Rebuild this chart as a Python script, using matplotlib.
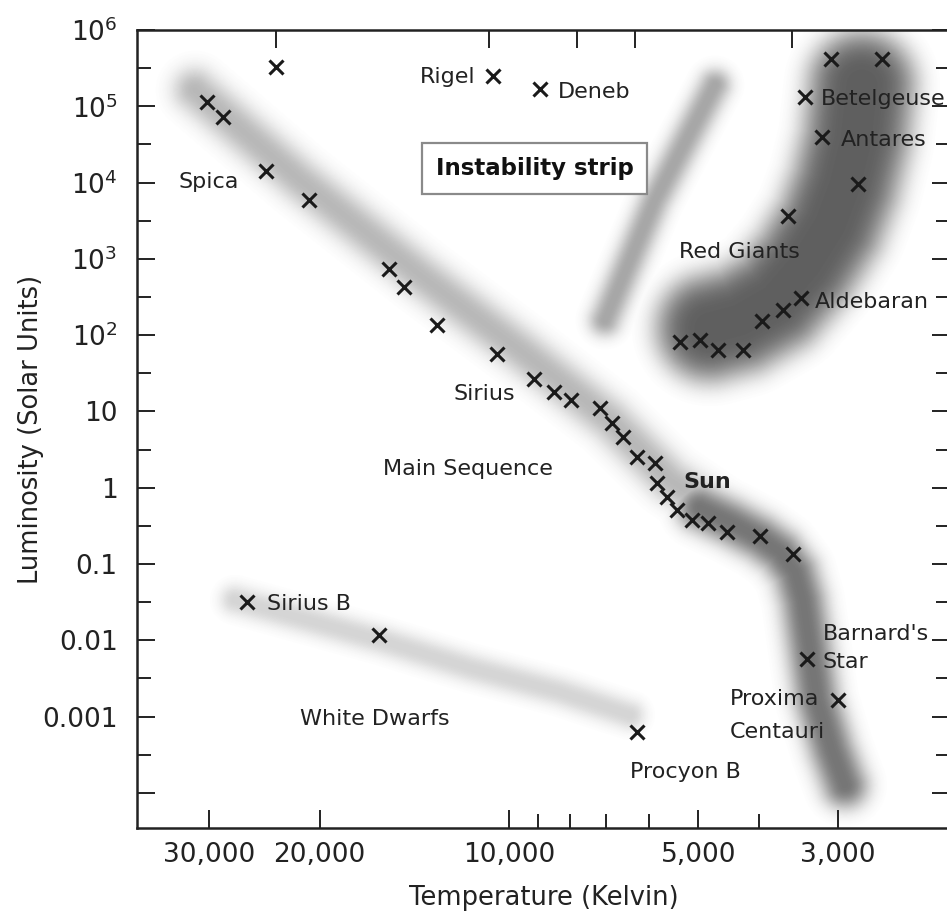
import numpy as np
import matplotlib
matplotlib.use("Agg")
import matplotlib.pyplot as plt
from matplotlib.ticker import FixedLocator, FixedFormatter, NullFormatter

# ---------------- data ----------------
# labelled stars
star_names = ["Spica", "Rigel", "Deneb", "Betelgeuse", "Antares", "Aldebaran",
              "Sirius", "Sun", "Sirius B", "Procyon B", "Barnard's\nStar",
              "Proxima\nCentauri"]
star_temp = [24300, 10600, 8930, 3380, 3180, 3430, 9130, 5820, 26100, 6260, 3360, 3000]
star_lum = [1.42e4, 2.5e5, 1.69e5, 1.32e5, 3.96e4, 307, 26.7, 1.16, 0.032, 0.00063,
            0.0057, 0.00166]

# unlabelled main-sequence stars
ms_temp = [30200, 28500, 20800, 15500, 14700, 13000, 10450, 8480, 7970, 7170, 6860,
           6590, 6260, 5860, 5610, 5410, 5120, 4830, 4500, 3990, 3540]
ms_lum = [1.14e5, 7.2e4, 5900, 740, 430, 136, 57, 18, 14.1, 11.1, 7.1,
          4.6, 2.5, 2.1, 0.76, 0.51, 0.38, 0.35, 0.26, 0.23, 0.136]

# unlabelled giants / supergiants
giant_temp = [23500, 3080, 2550, 2790, 3600, 3670, 3960, 5350, 4970, 4650, 4250]
giant_lum = [3.3e5, 4.2e5, 4.2e5, 9600, 3650, 214, 154, 81.5, 86.5, 64, 64]

# unlabelled white dwarf
wd_temp = [16100]
wd_lum = [0.0118]

# shaded regions (centre lines)
ms_band_upper_T = [31560, 21490, 13850, 9605, 6910, 5546, 4700]
ms_band_upper_L = [1.64e5, 1.08e4, 615, 64, 7.74, 1.27, 0.5]
ms_band_lower_T = [4970, 4453, 3990, 3709, 3510, 3409, 3322, 3238, 3065, 2923]
ms_band_lower_L = [0.544, 0.356, 0.220, 0.144, 0.0788, 0.0338, 0.00748, 0.00166,
                   0.000366, 0.000127]
giant_band_T = [4791, 4294, 3777, 3384, 3088, 2923, 2807, 2747]
giant_band_L = [124.3, 158, 289, 832, 2782, 9300, 36170, 190200]
strip_band_T = [7036, 5861, 4705]
strip_band_L = [158, 5916, 1.9e5]
wd_band_T = [27260, 16040, 11535, 8297, 6420]
wd_band_L = [0.0339, 0.0101, 0.00435, 0.00211, 0.00105]

# axis ticks
x_major = [30000, 20000, 10000, 5000, 3000]
x_major_labels = ["30,000", "20,000", "10,000", "5,000", "3,000"]
x_minor = [9000, 8000, 7000, 6000, 4000]
x_top = [23500, 10750, 7800, 6300, 3550]
y_major = [1e6, 1e5, 1e4, 1e3, 1e2, 10, 1, 0.1, 0.01, 0.001, 1e-4]
y_major_labels = [r"$10^6$", r"$10^5$", r"$10^4$", r"$10^3$", r"$10^2$",
                  "10", "1", "0.1", "0.01", "0.001", ""]
y_minor = [10 ** (k + 0.5) for k in range(-5, 6)]

# ---------------- layout / style ----------------
DPI = 100
fig = plt.figure(figsize=(9.47, 9.14), dpi=DPI)
ax = fig.add_axes([137 / 947, 86 / 914, 813 / 947, 798 / 914])
ax.set_xscale("log")
ax.set_yscale("log")
ax.set_xlim(39030, 1990)
ax.set_ylim(3.47e-5, 1e6)

TXT = "#222222"

# blurred bands: (T, L, sigma px, core darkness, profile exponent)
bands = [
    (ms_band_upper_T, ms_band_upper_L, 22, 0.28, 2.2),
    (ms_band_lower_T, ms_band_lower_L, 23, 0.54, 2.4),
    (giant_band_T, giant_band_L, 54, 0.63, 4.0),
    (strip_band_T, strip_band_L, 16, 0.35, 2.2),
    (wd_band_T, wd_band_L, 15, 0.17, 2.2),
]
levels = np.arange(0.008, 0.64, 0.006)
for t in levels:
    for T, L, s, d0, p in bands:
        if d0 > t:
            r = s * np.log(d0 / t) ** (1.0 / p)
            g = 1 - t
            ax.plot(T, L, color=(g, g, g), lw=2 * r * 72.0 / DPI,
                    solid_capstyle="round", solid_joinstyle="round", zorder=1)

mk = dict(marker="x", linestyle="none", color="#1a1a1a", ms=10, mew=2.2, zorder=5)
ax.plot(ms_temp, ms_lum, **mk)
ax.plot(giant_temp, giant_lum, **mk)
ax.plot(wd_temp, wd_lum, **mk)
ax.plot(star_temp, star_lum, **mk)

# label offsets in pixels (dx, dy up), horizontal alignment, per line
label_layout = {
    "Spica": [(-28, -17, "right")],
    "Rigel": [(-18, -7, "right")],
    "Deneb": [(18, -9, "left")],
    "Betelgeuse": [(16, -8, "left")],
    "Antares": [(19, -9, "left")],
    "Aldebaran": [(14, -10, "left")],
    "Sirius": [(-19, -21, "right")],
    "Sun": [(27, -5, "left")],
    "Sirius B": [(20, -8, "left")],
    "Procyon B": [(-7, -46, "left")],
    "Barnard's\nStar": [(16, 19, "left"), (16, -9, "left")],
    "Proxima\nCentauri": [(-108, -5, "left"), (-108, -38, "left")],
}

for name, t, l in zip(star_names, star_temp, star_lum):
    lines = name.split("\n")
    for line, (dx, dy, ha) in zip(lines, label_layout[name]):
        ax.annotate(line, xy=(t, l), xytext=(dx, dy), textcoords="offset pixels",
                    ha=ha, va="baseline", fontsize=16, color=TXT,
                    fontweight="bold" if name == "Sun" else "normal", zorder=6)

# region labels
ax.text(0.4071, 0.4424, "Main Sequence", transform=ax.transAxes, ha="center",
        va="baseline", fontsize=16, color=TXT, zorder=6)
ax.text(0.7405, 0.7143, "Red Giants", transform=ax.transAxes, ha="center",
        va="baseline", fontsize=16, color=TXT, zorder=6)
ax.text(0.2927, 0.1291, "White Dwarfs", transform=ax.transAxes, ha="center",
        va="baseline", fontsize=16, color=TXT, zorder=6)
ax.text(0.4890, 0.8183, "Instability strip", transform=ax.transAxes, ha="center",
        va="baseline", fontsize=16.5, fontweight="bold", color="#111111", zorder=6,
        bbox=dict(boxstyle="square,pad=0.6", fc="white", ec="#8a8a8a", lw=1.6))

# axes & ticks
ax.xaxis.set_major_locator(FixedLocator(x_major))
ax.xaxis.set_major_formatter(FixedFormatter(x_major_labels))
ax.xaxis.set_minor_locator(FixedLocator(x_minor))
ax.xaxis.set_minor_formatter(NullFormatter())
ax.yaxis.set_major_locator(FixedLocator(y_major))
ax.yaxis.set_major_formatter(FixedFormatter(y_major_labels))
ax.yaxis.set_minor_locator(FixedLocator(y_minor))
ax.yaxis.set_minor_formatter(NullFormatter())

ax.tick_params(axis="both", which="major", direction="in", length=13, width=1.4,
               colors="#222222", labelsize=19, labelcolor=TXT)
ax.tick_params(axis="both", which="minor", direction="in", length=10, width=1.4,
               colors="#222222")
ax.tick_params(axis="y", which="both", left=True, right=True, pad=14)
ax.tick_params(axis="x", which="both", bottom=True, top=False, pad=10)

for s in ax.spines.values():
    s.set_linewidth(1.8)
    s.set_color("#222222")

ax2 = ax.twiny()
ax2.set_xscale("log")
ax2.set_xlim(ax.get_xlim())
ax2.xaxis.set_major_locator(FixedLocator(x_top))
ax2.xaxis.set_major_formatter(NullFormatter())
ax2.xaxis.set_minor_locator(FixedLocator([]))
ax2.tick_params(axis="x", which="major", direction="in", length=13, width=1.4,
                colors="#222222")
for s in ax2.spines.values():
    s.set_visible(False)

ax.set_xlabel("Temperature (Kelvin)", fontsize=18.5, color=TXT)
ax.set_ylabel("Luminosity (Solar Units)", fontsize=18.5, color=TXT)
ax.xaxis.set_label_coords(0.5, -0.071)
ax.xaxis.label.set_va("top")
ax.yaxis.set_label_coords(-0.115, 0.5)

fig.savefig("out.png", dpi=DPI)
